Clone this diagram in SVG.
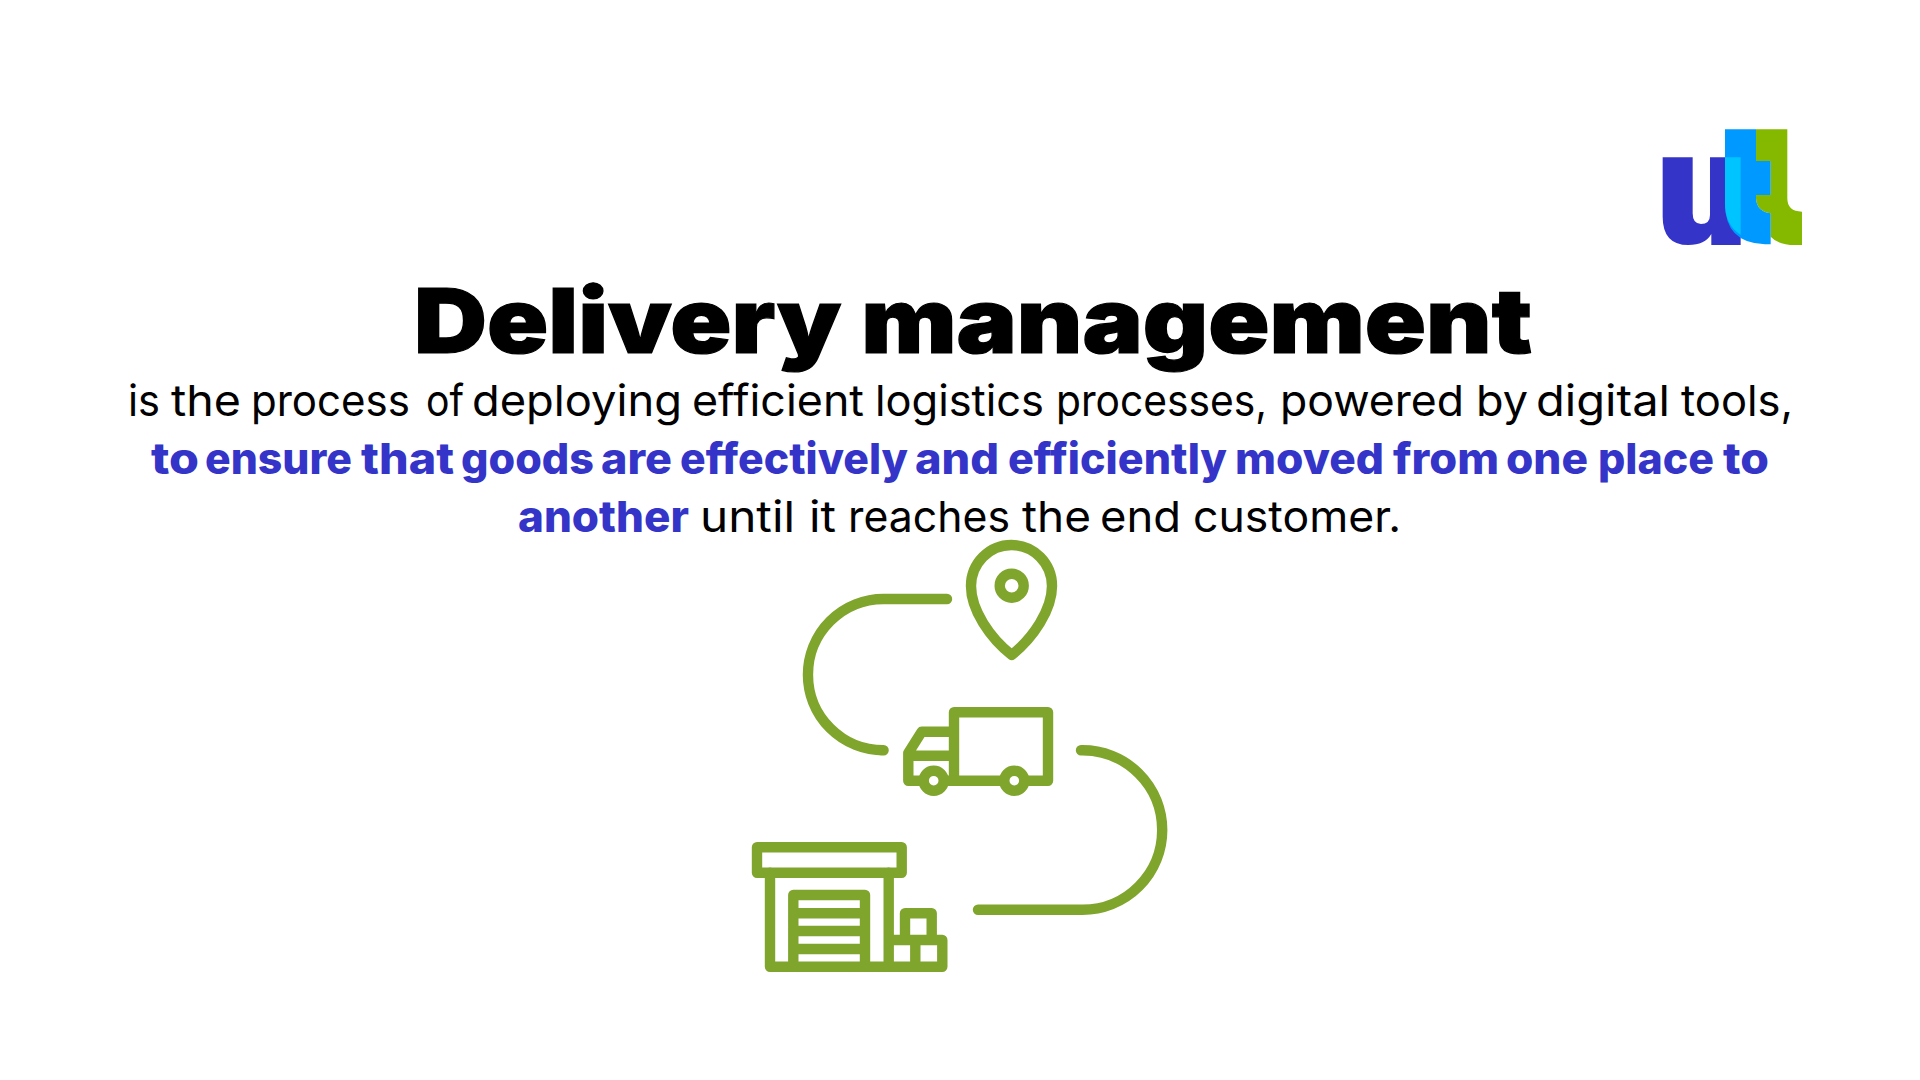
<svg xmlns="http://www.w3.org/2000/svg" width="1920" height="1080" viewBox="0 0 1920 1080">
<style>
.title{font-family:"Inter","Liberation Sans",sans-serif;font-weight:900;font-size:90px;fill:#000;stroke:#000;stroke-width:1.2}
.body{font-family:"Inter","Open Sans",sans-serif;font-size:43px;fill:#000;font-weight:400}
.hl{font-weight:800;fill:#3434c8}
.ic{fill:none;stroke:#7fa52d;stroke-width:10.4;stroke-linejoin:round;stroke-linecap:round}
.w{fill:#fff}
</style>
<rect width="1920" height="1080" fill="#fff"/>
<g id="logo" transform="translate(1640 110) scale(.3333)">
<path fill="#3434c8" d="M68 142H158V310Q158 342 183 342Q210 342 210 315V142H302V405H214V372Q195 405 145 405Q68 405 68 320Z"/>
<path fill="#84b900" d="M348 58H442V265Q442 305 486 305V405H465Q415 405 392 380V310Q350 305 348 265V255H392V153H348Z"/>
<path fill="#0099ff" d="M255 58H348V153H392V255H348V265Q350 305 392 310V403H375Q255 400 255 280Z"/>
<path fill="#00c4ff" d="M255 142H302V375Q255 345 255 280Z"/>
</g>
<g id="title"><text class="title" x="414" y="353" textLength="1118" lengthAdjust="spacingAndGlyphs">Delivery management</text></g>
<g id="description">
<text class="body" y="416"><tspan x="128" textLength="32" lengthAdjust="spacingAndGlyphs">is</tspan> <tspan x="171" textLength="70" lengthAdjust="spacingAndGlyphs">the</tspan> <tspan x="251" textLength="159" lengthAdjust="spacingAndGlyphs">process</tspan> <tspan x="426" textLength="38" lengthAdjust="spacingAndGlyphs">of</tspan> <tspan x="472" textLength="210" lengthAdjust="spacingAndGlyphs">deploying</tspan> <tspan x="692" textLength="172" lengthAdjust="spacingAndGlyphs">efficient</tspan> <tspan x="875" textLength="169" lengthAdjust="spacingAndGlyphs">logistics</tspan> <tspan x="1056" textLength="211" lengthAdjust="spacingAndGlyphs">processes,</tspan> <tspan x="1280" textLength="184" lengthAdjust="spacingAndGlyphs">powered</tspan> <tspan x="1476" textLength="52" lengthAdjust="spacingAndGlyphs">by</tspan> <tspan x="1536" textLength="134" lengthAdjust="spacingAndGlyphs">digital</tspan> <tspan x="1681" textLength="112" lengthAdjust="spacingAndGlyphs">tools,</tspan></text>
<text class="body hl" y="474"><tspan x="151" textLength="48" lengthAdjust="spacingAndGlyphs">to</tspan> <tspan x="205" textLength="147" lengthAdjust="spacingAndGlyphs">ensure</tspan> <tspan x="361" textLength="93" lengthAdjust="spacingAndGlyphs">that</tspan> <tspan x="461" textLength="133" lengthAdjust="spacingAndGlyphs">goods</tspan> <tspan x="601" textLength="71" lengthAdjust="spacingAndGlyphs">are</tspan> <tspan x="680" textLength="228" lengthAdjust="spacingAndGlyphs">effectively</tspan> <tspan x="915" textLength="84" lengthAdjust="spacingAndGlyphs">and</tspan> <tspan x="1008" textLength="219" lengthAdjust="spacingAndGlyphs">efficiently</tspan> <tspan x="1235" textLength="149" lengthAdjust="spacingAndGlyphs">moved</tspan> <tspan x="1393" textLength="106" lengthAdjust="spacingAndGlyphs">from</tspan> <tspan x="1506" textLength="82" lengthAdjust="spacingAndGlyphs">one</tspan> <tspan x="1598" textLength="116" lengthAdjust="spacingAndGlyphs">place</tspan> <tspan x="1723" textLength="46" lengthAdjust="spacingAndGlyphs">to</tspan></text>
<text class="body" y="532"><tspan class="hl" x="518" textLength="171" lengthAdjust="spacingAndGlyphs">another</tspan> <tspan x="700" textLength="95" lengthAdjust="spacingAndGlyphs">until</tspan> <tspan x="809" textLength="27" lengthAdjust="spacingAndGlyphs">it</tspan> <tspan x="848" textLength="162" lengthAdjust="spacingAndGlyphs">reaches</tspan> <tspan x="1022" textLength="69" lengthAdjust="spacingAndGlyphs">the</tspan> <tspan x="1100" textLength="81" lengthAdjust="spacingAndGlyphs">end</tspan> <tspan x="1193" textLength="208" lengthAdjust="spacingAndGlyphs">customer.</tspan></text>
</g>
<g id="connectors">
<path class="ic" d="M947 599H883.6A75 75 0 0 0 883.6 750.3H881"/>
<path class="ic" d="M1081 750.3H1082.5A79 79 0 0 1 1082.5 909.7H978"/>
</g>
<g id="pin">
<path class="ic" d="M1011.7 655C990 638 971 610 971 586A40.5 41 0 0 1 1052 586C1052 610 1033 638 1011.7 655Z"/>
<circle class="ic" cx="1011.7" cy="585.7" r="12"/>
</g>
<g id="truck">
<path class="ic" d="M954 780.7V712.3H1048V780.7H954M954 731.7H921.7L908.3 753V780.7H954M908.3 755.7H954"/>
<circle class="ic w" cx="933.7" cy="780.7" r="10"/>
<circle class="ic w" cx="1014.3" cy="780.7" r="10"/>
</g>
<g id="warehouse">
<rect class="ic" x="757" y="847.3" width="144.7" height="25.4"/>
<path class="ic" d="M770 872.7V966.7H942.3V940H888.7M888.7 872.7V966.7M793.3 966.7V895H865V966.7M793.3 913.3H865M793.3 931H865M793.3 949H865M915.3 940V966.7M905 940V913.3H931.7V940"/>
</g>
</svg>
